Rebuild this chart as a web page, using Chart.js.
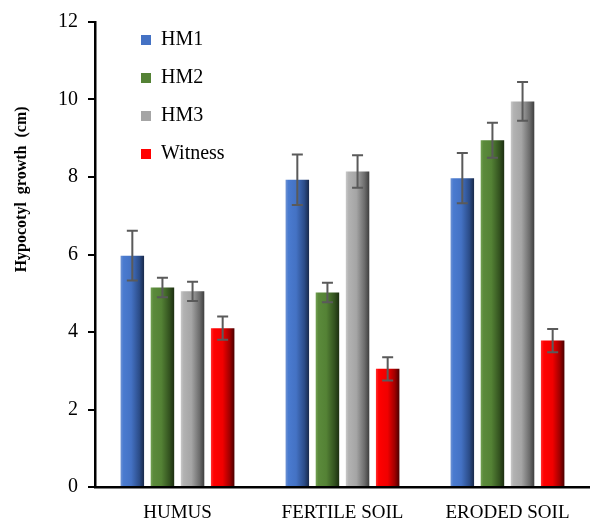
<!DOCTYPE html>
<html>
<head>
<meta charset="utf-8">
<script src="https://cdn.jsdelivr.net/npm/chart.js@4.4.1/dist/chart.umd.min.js"></script>
<style>
  html, body { margin: 0; padding: 0; background: #fff; }
  #wrap { width: 590px; height: 521px; position: relative; }
</style>
</head>
<body>
<div id="wrap"><canvas id="chart"></canvas></div>
<script>
// data
const categories = ['HUMUS', 'FERTILE SOIL', 'ERODED SOIL'];
const seriesNames = ['HM1', 'HM2', 'HM3', 'Witness'];
const hm1 = [5.97, 7.93, 7.97];
const hm2 = [5.15, 5.02, 8.95];
const hm3 = [5.05, 8.14, 9.95];
const witness = [4.1, 3.05, 3.78];
const hm1Err = [0.64, 0.65, 0.65];
const hm2Err = [0.25, 0.25, 0.45];
const hm3Err = [0.25, 0.42, 0.5];
const witnessErr = [0.3, 0.3, 0.3];
const yTicks = [0, 2, 4, 6, 8, 10, 12];

const CAT_PCT = 0.73;
const BAR_PCT = 0.78;
const SERIF = '"Liberation Serif", "Times New Roman", serif';
Chart.defaults.font.family = SERIF;
Chart.defaults.color = '#000';

// cylinder look: light-left, dark-right gradient per bar
function cylinder(stops, solid) {
    return (c) => {
        if (c.type !== 'data') return solid;
        const chart = c.chart;
        const x = chart.scales.x;
        if (!x || !x.width) return solid;
        const cat = x.width / categories.length;
        const slot = cat * CAT_PCT / seriesNames.length;
        const center = x.getPixelForValue(c.dataIndex) + (c.datasetIndex - 1.5) * slot;
        const w = slot * BAR_PCT;
        const g = chart.ctx.createLinearGradient(center - w / 2, 0, center + w / 2, 0);
        stops.forEach(([o, col]) => g.addColorStop(o, col));
        return g;
    };
}

const solids = ['#4472c4', '#548235', '#a5a5a5', '#ff0000'];
const blueStops = [[0, '#6f93d3'], [0.12, '#4a7bd0'], [0.45, '#4472c4'], [0.8, '#2b4c88'], [1, '#18294a']];
const greenStops = [[0, '#73a153'], [0.12, '#5b8a3b'], [0.45, '#548235'], [0.8, '#33521f'], [1, '#1c2e10']];
const grayStops = [[0, '#c9c9c9'], [0.12, '#b2b2b2'], [0.45, '#a5a5a5'], [0.8, '#6c6c6c'], [1, '#3e3e3e']];
const redStops = [[0, '#ff3030'], [0.12, '#ff0000'], [0.5, '#f00000'], [0.8, '#a00000'], [1, '#4a0000']];

const errors = [hm1Err, hm2Err, hm3Err, witnessErr];

const errorBars = {
    id: 'errorBars',
    afterDatasetsDraw(chart) {
        const ctx = chart.ctx;
        const y = chart.scales.y;
        ctx.save();
        ctx.strokeStyle = '#5a5a5a';
        ctx.lineWidth = 2;
        chart.data.datasets.forEach((ds, di) => {
            const meta = chart.getDatasetMeta(di);
            meta.data.forEach((bar, i) => {
                const v = ds.data[i];
                const e = errors[di][i];
                const top = y.getPixelForValue(v + e);
                const bot = y.getPixelForValue(v - e);
                const cap = 5.5;
                ctx.beginPath();
                ctx.moveTo(bar.x, top); ctx.lineTo(bar.x, bot);
                ctx.moveTo(bar.x - cap, top); ctx.lineTo(bar.x + cap, top);
                ctx.moveTo(bar.x - cap, bot); ctx.lineTo(bar.x + cap, bot);
                ctx.stroke();
            });
        });
        ctx.restore();
    }
};

// move the in-plot legend to where it sits in the original
const legendShift = {
    id: 'legendShift',
    afterLayout(chart) {
        const l = chart.legend;
        if (!l) return;
        l.left += 28; l.right += 28;
        l.top += 12; l.bottom += 12;
    }
};

// y title sits above the axis middle
const yTitle = {
    id: 'yTitle',
    afterDraw(chart) {
        const { ctx, chartArea } = chart;
        ctx.save();
        ctx.font = 'bold 16px ' + SERIF;
        ctx.fillStyle = '#000';
        ctx.textAlign = 'center';
        ctx.textBaseline = 'middle';
        ctx.translate(22, chartArea.top + (chartArea.bottom - chartArea.top) * 0.36);
        ctx.rotate(-Math.PI / 2);
        ctx.fillText('Hypocotyl  growth  (cm)', 0, 0);
        ctx.restore();
    }
};

new Chart(document.getElementById('chart'), {
    type: 'bar',
    data: {
        labels: categories,
        datasets: [
            { label: seriesNames[0], data: hm1, backgroundColor: cylinder(blueStops, solids[0]) },
            { label: seriesNames[1], data: hm2, backgroundColor: cylinder(greenStops, solids[1]) },
            { label: seriesNames[2], data: hm3, backgroundColor: cylinder(grayStops, solids[2]) },
            { label: seriesNames[3], data: witness, backgroundColor: cylinder(redStops, solids[3]) }
        ]
    },
    options: {
        responsive: true,
        maintainAspectRatio: false,
        animation: false,
        categoryPercentage: CAT_PCT,
        barPercentage: BAR_PCT,
        layout: { padding: { top: 10, right: 0, bottom: 0, left: 0 } },
        plugins: {
            legend: {
                position: 'chartArea',
                align: 'start',
                labels: {
                    boxWidth: 10,
                    boxHeight: 10,
                    padding: 18,
                    color: '#000',
                    font: { family: SERIF, size: 20 },
                    generateLabels: (chart) => chart.data.datasets.map((ds, i) => ({
                        text: ds.label,
                        fillStyle: solids[i],
                        strokeStyle: solids[i],
                        lineWidth: 0,
                        fontColor: '#000',
                        datasetIndex: i
                    }))
                }
            },
            tooltip: { enabled: false }
        },
        scales: {
            x: {
                grid: { display: false, drawTicks: false },
                border: { color: '#000', width: 2.5 },
                ticks: { color: '#000', padding: 15, font: { family: SERIF, size: 19 } },
                afterFit(scale) { scale.height = 34; }
            },
            y: {
                min: 0,
                max: 12,
                afterBuildTicks(scale) { scale.ticks = yTicks.map(v => ({ value: v })); },
                grid: { drawOnChartArea: false, color: '#000', lineWidth: 2, tickLength: 7 },
                border: { color: '#000', width: 2.5 },
                ticks: { color: '#000', padding: 10, font: { family: SERIF, size: 20 } },
                afterFit(scale) { scale.width = 95; }
            }
        }
    },
    plugins: [errorBars, legendShift, yTitle]
});
</script>
</body>
</html>
